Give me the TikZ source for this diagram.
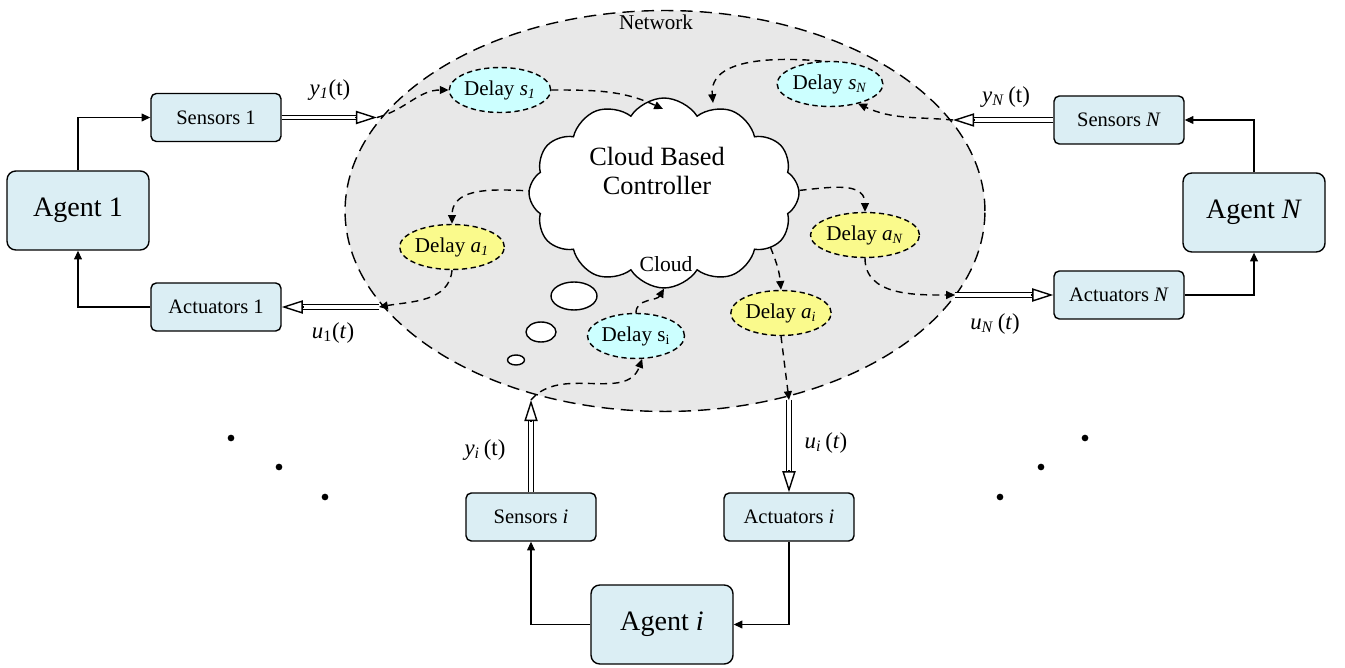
\documentclass[tikz,border=0pt]{standalone}
\usepackage{fontspec}
\setmainfont{Liberation Serif}
\usetikzlibrary{shapes.geometric,shapes.symbols,arrows.meta,calc}
\definecolor{boxblue}{RGB}{219,238,244}
\definecolor{dcyan}{RGB}{204,255,255}
\definecolor{dyellow}{RGB}{250,250,140}
\definecolor{netgray}{RGB}{232,232,232}
\begin{document}
\begin{tikzpicture}[x=0.02cm,y=-0.02cm,
 box/.style={draw, line width=0.8pt, fill=boxblue, rounded corners=3pt, minimum width=2.6cm, minimum height=0.96cm, inner sep=0pt, font=\fontsize{11.7}{13}\selectfont},
 agent/.style={box, minimum width=2.84cm, minimum height=1.58cm, rounded corners=5pt, font=\fontsize{16}{18}\selectfont},
 delay/.style={ellipse, draw, dash pattern=on 3pt off 2pt, line width=0.8pt, minimum width=1.94cm, minimum height=0.9cm, inner sep=0pt, font=\fontsize{12}{14}\selectfont},
 sdel/.style={delay, fill=dcyan},
 adel/.style={delay, fill=dyellow},
 solidarr/.style={line width=0.6pt, -{Triangle[length=5pt,width=4.5pt]}},
 dconn/.style={line width=0.8pt, dash pattern=on 4pt off 3pt, -{Triangle[length=5pt,width=4.5pt]}},
 dshaft/.style={draw, line width=0.7pt, double=white, double distance=1.8pt},
 ohead/.style={line width=0.8pt, -{Triangle[length=12pt,width=7.5pt,fill=white]}},
 lbl/.style={font=\fontsize{13}{15}\selectfont, inner sep=0pt},
 bubble/.style={ellipse, draw, fill=white, line width=0.8pt, inner sep=0pt}
]
\useasboundingbox (0,0) rectangle (1345,668);
\newcommand\dblarr[2]{\draw[dshaft, shorten >=11.5pt] (#1) -- (#2); \draw[ohead] ($(#2)!12.5pt!(#1)$) -- (#2);}

% network
\node[ellipse, draw, fill=netgray, line width=0.8pt, dash pattern=on 7pt off 4pt, minimum width=12.8cm, minimum height=8.02cm, inner sep=0pt] (net) at (665,211) {};
\node[font=\fontsize{12}{14}\selectfont] (netl) at (656,22) {Network};

% boxes
\node[box] (s1) at (216,117.5) {Sensors 1};
\node[box] (a1) at (216,307) {Actuators 1};
\node[agent] (g1) at (78,210.5) {Agent 1};
\node[box] (sN) at (1119,120) {Sensors \textit{N}};
\node[box] (aN) at (1119,295) {Actuators \textit{N}};
\node[agent] (gN) at (1254,212.5) {Agent \textit{N}};
\node[box] (si) at (531,517) {Sensors \textit{i}};
\node[box] (ai) at (789,517) {Actuators \textit{i}};
\node[agent] (gi) at (662,624.5) {Agent \textit{i}};

% delays
\node[sdel] (ds1) at (500,90) {Delay \textit{s}\textsubscript{\textit{1}}};
\node[sdel] (dsN) at (830,84) {Delay \textit{s}\textsubscript{\textit{N}}};
\node[adel] (da1) at (452,247) {Delay \textit{a}\textsubscript{\textit{1}}};
\node[adel] (daN) at (865,235) {Delay \textit{a}\textsubscript{\textit{N}}};
\node[adel] (dai) at (781,313) {Delay \textit{a}\textsubscript{\textit{i}}};
\node[sdel] (dsi) at (636,336) {Delay s\textsubscript{i}};

% coordinates
\coordinate (ctop1) at (663,109);
\coordinate (ctop2) at (713,103);
\coordinate (cwe) at (560,192);
\coordinate (cea) at (775,192);
\coordinate (csb) at (760,212);
\coordinate (y1t) at (377,0 |- s1.east);
\coordinate (u1t) at (379,0 |- a1.east);
\coordinate (yNt) at (953,0 |- sN.west);
\coordinate (uNt) at (955,0 |- aN.west);
\coordinate (yit) at (si.north |- 0,400);
\coordinate (uit) at (ai.north |- 0,400);

% connectors leaving the cloud (drawn under it)
\draw[dconn] (cwe) to[out=180,in=90] (da1.north);
\draw[dconn] (cea) to[out=0,in=90] (daN.north);
\draw[dconn] (csb) to[out=-80,in=95] (dai.north);

% cloud
\node[cloud, draw, fill=white, line width=0.8pt, cloud puffs=12, cloud puff arc=115, minimum width=5.4cm, minimum height=3.8cm, cloud ignores aspect, inner sep=0pt] (cl) at (664,193) {};
\node[align=center, font=\fontsize{15}{16.5}\selectfont, inner sep=0pt] (clt) at (657,171) {Cloud Based\\Controller};
\node[font=\fontsize{12.3}{14}\selectfont, inner sep=0pt] (cll) at (666,264) {Cloud};

% bubbles
\node[bubble, minimum width=0.92cm, minimum height=0.56cm] (b1) at (574,296) {};
\node[bubble, minimum width=0.6cm, minimum height=0.4cm] (b2) at (541,332) {};
\node[bubble, minimum width=0.34cm, minimum height=0.2cm] (b3) at (516,360) {};

% double arrows
\dblarr{s1.east}{y1t}
\dblarr{u1t}{a1.east}
\dblarr{sN.west}{yNt}
\dblarr{uNt}{aN.west}
\dblarr{si.north}{yit}
\dblarr{uit}{ai.north}

% agent loops
\draw[solidarr] (g1.north) |- (s1.west);
\draw[solidarr] (a1.west) -| (g1.south);
\draw[solidarr] (gN.north) |- (sN.east);
\draw[solidarr] (aN.east) -| (gN.south);
\draw[solidarr] (gi.west) -| (si.south);
\draw[solidarr] (ai.south) |- (gi.east);

% dashed connectors
\draw[dconn] (y1t) to[out=15,in=180] (ds1.west);
\draw[dconn] (ds1.east) to[out=0,in=155] (ctop1);
\draw[dconn] (yNt) to[out=175,in=-25] (dsN.-35);
\draw[dconn] (dsN.110) to[out=175,in=95] (ctop2);
\draw[dconn] (da1.south) to[out=-95,in=10] (u1t);
\draw[dconn] (daN.south) to[out=-90,in=180] (uNt);
\draw[dconn] (dai.south) -- (uit);
\draw[dconn] (yit) to[out=50,in=-110] (dsi.-75);
\draw[dconn] (dsi.north) to[out=90,in=-120] (cl.south);

% labels
\node[lbl] (ly1) at (330,90) {\textit{y}\textsubscript{\textit{1}}(t)};
\node[lbl] (lyN) at (1006,97) {\textit{y}\textsubscript{\textit{N}}\,(t)};
\node[lbl] (lu1) at (333,333) {\textit{u}\textsubscript{1}(\textit{t})};
\node[lbl] (luN) at (995,324) {\textit{u}\textsubscript{\textit{N}}\,(\textit{t})};
\node[lbl] (lyi) at (485,450) {\textit{y}\textsubscript{\textit{i}}\,(t)};
\node[lbl] (lui) at (826,443) {\textit{u}\textsubscript{\textit{i}}\,(\textit{t})};

% dots
\foreach \p in {(231,438),(279,467),(325,497),(1085,438),(1041,467),(1000,497)}
  \fill \p circle[radius=1.9pt];
\end{tikzpicture}
\end{document}
